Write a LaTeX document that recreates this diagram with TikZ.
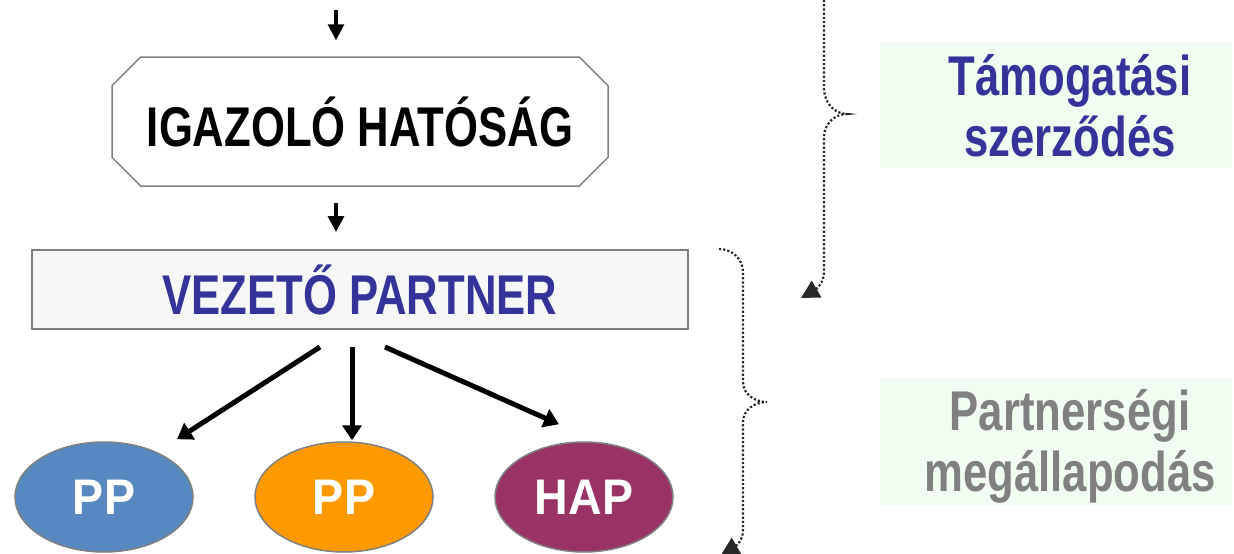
\documentclass[tikz,border=0pt]{standalone}
\usepackage{fontspec}
\setmainfont{Liberation Sans}
\newfontfamily\narrowfont[FakeStretch=0.78]{Liberation Sans}
\newfontfamily\ovalfont[FakeStretch=0.93]{Liberation Sans}
\usetikzlibrary{arrows.meta,shapes,positioning}
\definecolor{hlblue}{RGB}{51,51,153}
\definecolor{hlgray}{RGB}{128,128,128}
\definecolor{ppblue}{RGB}{88,136,192}
\definecolor{pporange}{RGB}{255,153,0}
\definecolor{happurple}{RGB}{153,51,102}
\definecolor{boxgray}{RGB}{247,247,247}
\definecolor{notegreen}{RGB}{240,253,240}
\definecolor{dotgray}{RGB}{40,40,40}
\tikzstyle{arrow} = [line width=3.2pt,-{Triangle[length=16pt,width=16pt]}]
\tikzstyle{fanarrow} = [line width=5pt,-{Triangle[length=15pt,width=19pt]}]
\tikzstyle{bracket} = [line width=2.2pt,dotgray,dash pattern=on 2.2pt off 2pt,-{Triangle[length=18pt,width=19pt]}]
\tikzstyle{oval} = [ellipse,draw=hlgray,line width=1.5pt,minimum width=178pt,minimum height=110pt,inner sep=0pt,text=white,font=\ovalfont\bfseries\fontsize{50}{50}\selectfont]
\tikzstyle{notetext} = [align=center,font=\narrowfont\bfseries\fontsize{56}{61}\selectfont]

\begin{document}
\begin{tikzpicture}[x=1pt,y=-1pt]
\useasboundingbox (0,0) rectangle (1234,554);

% Main chain
\node[chamfered rectangle,chamfered rectangle xsep=37pt,draw=hlgray,line width=1.5pt,fill=white,
  minimum width=496pt,minimum height=129pt,inner sep=0pt,
  font=\narrowfont\bfseries\fontsize{56}{56}\selectfont] (ih) at (360,121.5) {IGAZOLÓ HATÓSÁG};
\node[draw=hlgray,line width=2pt,fill=boxgray,minimum width=656pt,minimum height=79pt,inner sep=0pt,
  text=hlblue,font=\narrowfont\bfseries\fontsize{56}{56}\selectfont] (vp) at (360,289.5) {VEZETŐ PARTNER};

\coordinate (in) at (336,10);
\draw[arrow] (in) -- ([xshift=-24pt,yshift=16pt]ih.north);
\draw[arrow] ([xshift=-24pt,yshift=-16pt]ih.south) -- ([xshift=-24pt,yshift=17pt]vp.north);

% Partners
\node[oval,fill=ppblue] (pp1) at (104,497) {PP};
\node[oval,fill=pporange] (pp2) at (344,497) {PP};
\node[oval,fill=happurple] (hap) at (584,497) {HAP};

\draw[fanarrow] ([xshift=-40pt,yshift=-17pt]vp.south) -- ([xshift=73pt,yshift=2pt]pp1.north);
\draw[fanarrow] ([xshift=-8pt,yshift=-17pt]vp.south) -- ([xshift=8pt,yshift=1pt]pp2.north);
\draw[fanarrow] ([xshift=25pt,yshift=-17pt]vp.south) -- ([xshift=-25pt,yshift=17pt]hap.north);

% Contract notes
\fill[notegreen] (880,42) rectangle (1232,168);
\node[notetext,text=hlblue] (ts) at (1070,106) {Támogatási\\szerződés};
\fill[notegreen] (880,378) rectangle (1232,506);
\node[notetext,text=hlgray] (pm) at (1070,446) {Partnerségi\\megállapodás};

% Dotted braces
\draw[bracket] (824,0) -- (824,88) to[out=-90,in=180] (847,114) to[out=180,in=90] (824,137)
  -- (824,272) to[out=-90,in=30] (801,298);
\draw[bracket] (719,249) to[out=0,in=90] (743,272) -- (743,382) to[out=-90,in=180] (767,402)
  to[out=180,in=90] (743,422) -- (743,530) to[out=-90,in=30] (721,555);
\end{tikzpicture}
\end{document}
